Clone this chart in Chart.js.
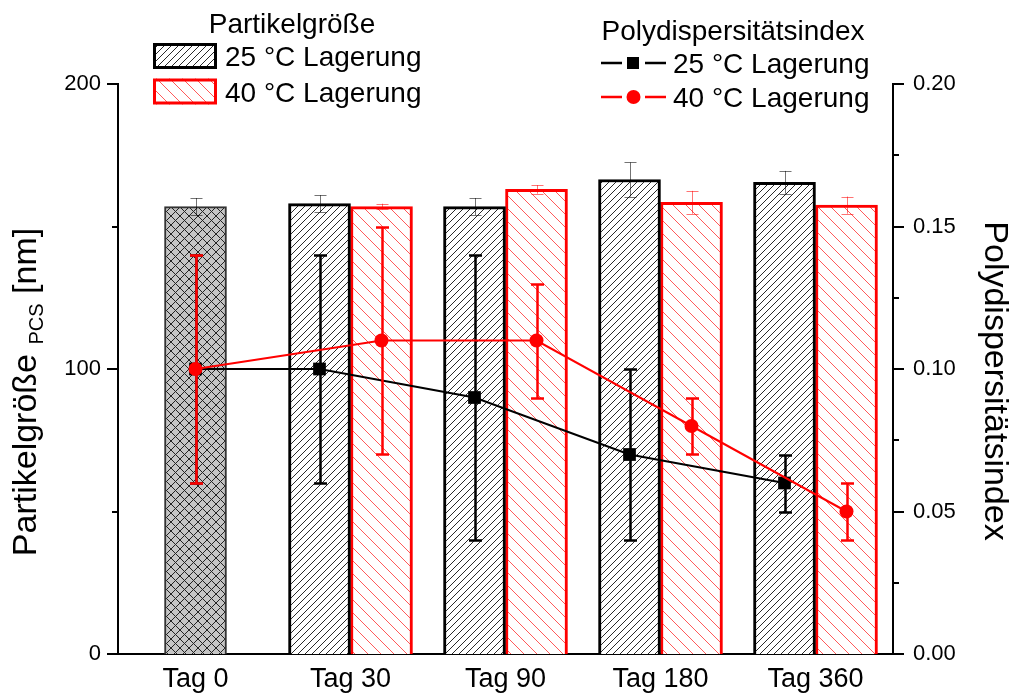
<!DOCTYPE html>
<html>
<head>
<meta charset="utf-8">
<script src="https://cdn.jsdelivr.net/npm/chart.js@4.4.1/dist/chart.umd.min.js"></script>
<style>
  html, body { margin: 0; padding: 0; background: #fff; }
  #wrap { width: 1011px; height: 694px; position: relative; }
</style>
</head>
<body>
<div id="wrap"><canvas id="storageChart"></canvas></div>
<script>
const days = ['Tag 0', 'Tag 30', 'Tag 90', 'Tag 180', 'Tag 360'];

// particle size in nm (bars)
const sizeStart = [157, null, null, null, null];
const sizeStartErr = [3, null, null, null, null];
const size25 = [null, 158, 157, 166.5, 165.5];
const size25Err = [null, 3, 3, 6, 4];
const size40 = [null, 157, 163, 158.5, 157.5];
const size40Err = [null, 1, 1.5, 4, 3];

// polydispersity index (lines)
const pdi25 = [0.10, 0.10, 0.09, 0.07, 0.06];
const pdi25Err = [0.04, 0.04, 0.05, 0.03, 0.01];
const pdi40 = [0.10, 0.11, 0.11, 0.08, 0.05];
const pdi40Err = [0.04, 0.04, 0.02, 0.01, 0.01];

const sizeTicks = [0, 100, 200];
const pdiTicks = [0, 0.05, 0.10, 0.15, 0.20];

const FONT = '"Liberation Sans", Arial, sans-serif';
const BAR_SHIFT = 0.2;   // each bar of a pair sits this far from the day centre

const canvas = document.getElementById('storageChart');
const ctx0 = canvas.getContext('2d');

function hatch(size, color, dirs, bg) {
  const c = document.createElement('canvas');
  c.width = c.height = size;
  const g = c.getContext('2d');
  if (bg) {
    g.fillStyle = bg;
    g.fillRect(0, 0, size, size);
  }
  g.strokeStyle = color;
  g.lineWidth = 1;
  g.beginPath();
  dirs.forEach(function(d) {
    if (d === '/') {
      g.moveTo(-1, size + 1); g.lineTo(size + 1, -1);
      g.moveTo(-1, 1); g.lineTo(1, -1);
      g.moveTo(size - 1, size + 1); g.lineTo(size + 1, size - 1);
    } else {
      g.moveTo(-1, -1); g.lineTo(size + 1, size + 1);
      g.moveTo(size - 1, -1); g.lineTo(size + 1, 1);
      g.moveTo(-1, size - 1); g.lineTo(1, size + 1);
    }
  });
  g.stroke();
  return ctx0.createPattern(c, 'repeat');
}

const fill25 = hatch(7, '#2a2a2a', ['/'], '#fff');
const fill40 = hatch(13, '#ff5a5a', ['\\'], '#fff');
const fillStart = hatch(9, '#222', ['/', '\\'], '#c4c4c4');

// day index -> position on the hidden linear axis (Tag 0 has a single centred bar)
function dayX(i, side) {
  return i === 0 ? 0 : i + side * BAR_SHIFT;
}

function points(values, side) {
  const out = [];
  values.forEach(function(v, i) {
    if (v !== null) out.push({ x: dayX(i, side), y: v });
  });
  return out;
}

function pickErr(values, errs) {
  return errs.filter(function(e, i) { return values[i] !== null; });
}

function drawErrors(chart, meta, ds) {
  const err = ds.errors;
  if (!err) return;
  const yScale = chart.scales[meta.yAxisID];
  const ctx = chart.ctx;
  ctx.save();
  ctx.strokeStyle = ds.errorColor;
  ctx.lineWidth = ds.errorWidth;
  ctx.beginPath();
  meta.data.forEach(function(el, i) {
    const v = ds.data[i].y;
    if (err[i] === null || err[i] === undefined) return;
    const x = Math.round(el.x) + (ds.errorWidth % 2 ? 0.5 : 0);
    const top = yScale.getPixelForValue(v + err[i]);
    const bot = yScale.getPixelForValue(v - err[i]);
    const h = ds.capWidth / 2;
    ctx.moveTo(x, top); ctx.lineTo(x, bot);
    ctx.moveTo(x - h, Math.round(top) + 0.5); ctx.lineTo(x + h, Math.round(top) + 0.5);
    ctx.moveTo(x - h, Math.round(bot) + 0.5); ctx.lineTo(x + h, Math.round(bot) + 0.5);
  });
  ctx.stroke();
  ctx.restore();
}

const errorBars = {
  id: 'errorBars',
  beforeDatasetDraw(chart, args) {
    const ds = chart.data.datasets[args.index];
    if (ds.type === 'line') drawErrors(chart, args.meta, ds);
  },
  afterDatasetDraw(chart, args) {
    const ds = chart.data.datasets[args.index];
    if (ds.type !== 'line') drawErrors(chart, args.meta, ds);
  }
};

function midpoints(arr) {
  const out = [];
  for (let i = 1; i < arr.length; i++) out.push((arr[i - 1] + arr[i]) / 2);
  return out;
}

// tick marks: long on labelled values, short in between
const axisMarks = {
  id: 'axisMarks',
  afterDraw(chart) {
    const ctx = chart.ctx;
    const y = chart.scales.y;
    const y1 = chart.scales.y1;
    const left = chart.chartArea.left;
    const right = chart.chartArea.right;
    ctx.save();
    ctx.strokeStyle = '#000';
    ctx.lineWidth = 2;
    ctx.beginPath();
    sizeTicks.forEach(function(v) {
      const p = Math.round(y.getPixelForValue(v));
      ctx.moveTo(left - 11, p); ctx.lineTo(left, p);
    });
    midpoints(sizeTicks).forEach(function(v) {
      const p = Math.round(y.getPixelForValue(v));
      ctx.moveTo(left - 6, p); ctx.lineTo(left, p);
    });
    pdiTicks.forEach(function(v) {
      const p = Math.round(y1.getPixelForValue(v));
      ctx.moveTo(right, p); ctx.lineTo(right + 11, p);
    });
    midpoints(pdiTicks).forEach(function(v) {
      const p = Math.round(y1.getPixelForValue(v));
      ctx.moveTo(right, p); ctx.lineTo(right + 6, p);
    });
    ctx.stroke();
    ctx.restore();
  }
};

function capBase(center, size) {
  return center + size * 0.358;
}

// two legend groups and the rotated axis titles
const chartText = {
  id: 'chartText',
  afterDraw(chart) {
    const ctx = chart.ctx;
    const fs = 28;
    ctx.save();
    ctx.fillStyle = '#000';
    ctx.font = fs + 'px ' + FONT;
    ctx.textBaseline = 'alphabetic';

    // bars legend
    ctx.textAlign = 'center';
    ctx.fillText('Partikelgröße', 292, 32.5);
    ctx.textAlign = 'left';
    const boxes = [
      { fill: fill25, stroke: '#000', label: '25 °C Lagerung', cy: 56 },
      { fill: fill40, stroke: '#ff0000', label: '40 °C Lagerung', cy: 91.5 }
    ];
    boxes.forEach(function(b) {
      ctx.fillStyle = b.fill;
      ctx.fillRect(153, b.cy - 13, 64, 26);
      ctx.strokeStyle = b.stroke;
      ctx.lineWidth = 3;
      ctx.strokeRect(154.5, b.cy - 11.5, 61, 23);
      ctx.fillStyle = '#000';
      ctx.fillText(b.label, 225, capBase(b.cy, fs));
    });

    // lines legend
    ctx.textAlign = 'center';
    ctx.fillText('Polydispersitätsindex', 733, 40);
    ctx.textAlign = 'left';
    const rows = [
      { color: '#000', shape: 'rect', label: '25 °C Lagerung', cy: 63 },
      { color: '#ff0000', shape: 'circle', label: '40 °C Lagerung', cy: 97 }
    ];
    rows.forEach(function(r) {
      ctx.strokeStyle = r.color;
      ctx.fillStyle = r.color;
      ctx.lineWidth = 2.5;
      ctx.beginPath();
      ctx.moveTo(601, r.cy); ctx.lineTo(622, r.cy);
      ctx.moveTo(645, r.cy); ctx.lineTo(666, r.cy);
      ctx.stroke();
      if (r.shape === 'rect') {
        ctx.fillRect(627, r.cy - 6, 12, 12);
      } else {
        ctx.beginPath();
        ctx.arc(633.5, r.cy, 7, 0, Math.PI * 2);
        ctx.fill();
      }
      ctx.fillStyle = '#000';
      ctx.fillText(r.label, 673, capBase(r.cy, fs));
    });

    // left title with subscript
    const big = 34, small = 20;
    const parts = [
      { t: 'Partikelgröße ', s: big, dy: 0 },
      { t: 'PCS', s: small, dy: 7 },
      { t: ' [nm]', s: big, dy: 0 }
    ];
    let total = 0;
    parts.forEach(function(p) {
      ctx.font = p.s + 'px ' + FONT;
      p.w = ctx.measureText(p.t).width;
      total += p.w;
    });
    ctx.save();
    ctx.translate(25, 392);
    ctx.rotate(-Math.PI / 2);
    let x = -total / 2;
    parts.forEach(function(p) {
      ctx.font = p.s + 'px ' + FONT;
      ctx.fillText(p.t, x, big * 0.33 + p.dy);
      x += p.w;
    });
    ctx.restore();

    // right title
    ctx.save();
    ctx.translate(996, 381);
    ctx.rotate(Math.PI / 2);
    ctx.textAlign = 'center';
    ctx.font = '34px ' + FONT;
    ctx.fillText('Polydispersitätsindex', 0, 34 * 0.33);
    ctx.restore();

    ctx.restore();
  }
};

const barBase = {
  type: 'bar', borderSkipped: 'bottom', grouped: false,
  categoryPercentage: 1, barPercentage: 1,
  xAxisID: 'xl', yAxisID: 'y'
};

const chart = new Chart(canvas, {
  type: 'bar',
  data: {
    labels: days,
    datasets: [
      {
        type: 'line',
        label: '40 °C Lagerung',
        data: points(pdi40, 1),
        errors: pickErr(pdi40, pdi40Err), errorColor: '#ff0000', errorWidth: 2.5, capWidth: 13,
        borderColor: '#ff0000', backgroundColor: '#ff0000', borderWidth: 2,
        pointStyle: 'circle', pointRadius: 7, pointBorderWidth: 0,
        tension: 0, xAxisID: 'xl', yAxisID: 'y1', order: 0
      },
      {
        type: 'line',
        label: '25 °C Lagerung',
        data: points(pdi25, -1),
        errors: pickErr(pdi25, pdi25Err), errorColor: '#000', errorWidth: 2.5, capWidth: 13,
        borderColor: '#000', backgroundColor: '#000', borderWidth: 2,
        pointStyle: 'rect', pointRadius: 9, pointBorderWidth: 0,
        tension: 0, xAxisID: 'xl', yAxisID: 'y1', order: 1
      },
      Object.assign({}, barBase, {
        label: '25 °C Lagerung',
        data: points(size25, -1),
        errors: pickErr(size25, size25Err), errorColor: 'rgba(0,0,0,0.55)', errorWidth: 1, capWidth: 12,
        backgroundColor: fill25, borderColor: '#000', borderWidth: 3, order: 3
      }),
      Object.assign({}, barBase, {
        label: '40 °C Lagerung',
        data: points(size40, 1),
        errors: pickErr(size40, size40Err), errorColor: 'rgba(255,0,0,0.55)', errorWidth: 1, capWidth: 12,
        backgroundColor: fill40, borderColor: '#ff0000', borderWidth: 3, order: 3
      }),
      Object.assign({}, barBase, {
        label: 'Tag 0',
        data: points(sizeStart, 0),
        errors: pickErr(sizeStart, sizeStartErr), errorColor: 'rgba(0,0,0,0.55)', errorWidth: 1, capWidth: 12,
        backgroundColor: fillStart, borderColor: '#333', borderWidth: 2, order: 4
      })
    ]
  },
  options: {
    responsive: true,
    maintainAspectRatio: false,
    animation: false,
    layout: { padding: { top: 84, left: 0, right: 0, bottom: 0 } },
    plugins: {
      legend: { display: false },
      tooltip: { enabled: false }
    },
    scales: {
      x: {
        type: 'category',
        position: 'bottom',
        offset: true,
        grid: { display: false, drawTicks: false },
        border: { display: true, color: '#000', width: 2 },
        ticks: { color: '#000', font: { family: FONT, size: 27 }, padding: 9 },
        afterFit: function(s) { s.height = 40; }
      },
      xl: {
        type: 'linear',
        display: false,
        offset: false,
        min: -0.5,
        max: 4.5
      },
      y: {
        position: 'left',
        min: 0,
        max: 200,
        grid: { display: false, drawTicks: false },
        border: { display: true, color: '#000', width: 2 },
        ticks: { color: '#000', font: { family: FONT, size: 22 }, padding: 17 },
        afterBuildTicks: function(s) { s.ticks = sizeTicks.map(function(v) { return { value: v }; }); },
        afterFit: function(s) { s.width = 118; }
      },
      y1: {
        position: 'right',
        min: 0,
        max: 0.2,
        grid: { display: false, drawTicks: false },
        border: { display: true, color: '#000', width: 2 },
        ticks: {
          color: '#000', font: { family: FONT, size: 22 }, padding: 20,
          callback: function(v) { return Number(v).toFixed(2); }
        },
        afterBuildTicks: function(s) { s.ticks = pdiTicks.map(function(v) { return { value: v }; }); },
        afterFit: function(s) { s.width = 118; }
      }
    }
  },
  plugins: [errorBars, axisMarks, chartText]
});
</script>
</body>
</html>
